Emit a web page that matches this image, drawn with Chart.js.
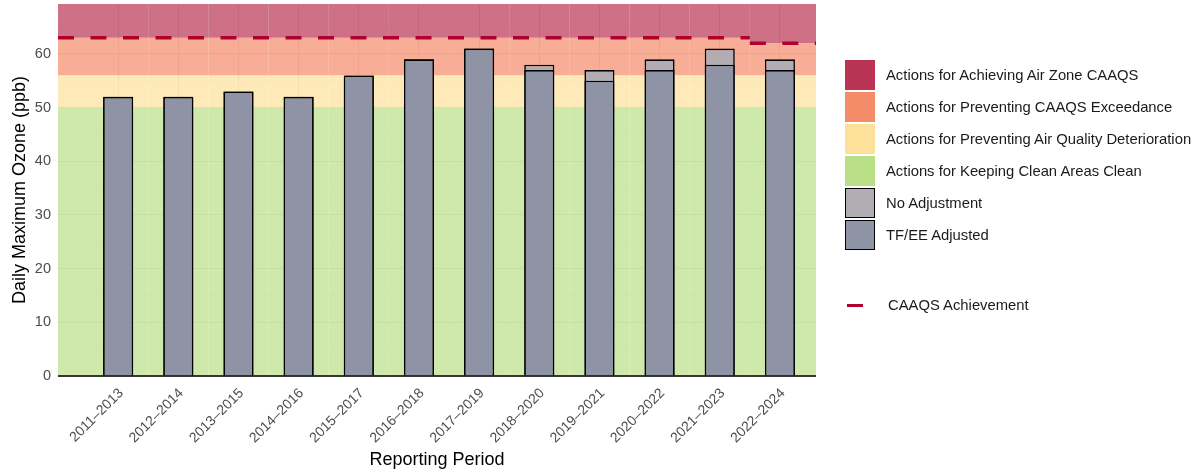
<!DOCTYPE html>
<html>
<head>
<meta charset="utf-8">
<script src="https://cdn.jsdelivr.net/npm/chart.js@4.4.1/dist/chart.umd.min.js"></script>
<style>
  body { margin:0; background:#fff; font-family:"Liberation Sans", Arial, sans-serif; }
  #wrap { position:relative; width:1203px; height:473px; }
  #legend { position:absolute; left:845px; top:60px; }
  .item { position:absolute; left:0; height:30px; width:360px; display:flex; align-items:center; font-size:14.8px; color:#1a1a1a; white-space:nowrap; }
  .item .box { width:30px; height:30px; margin-right:11px; box-sizing:border-box; flex:none; }
  .item .dash { width:16px; height:3px; margin:0 25px 0 2px; background:#b0002e; flex:none; }
</style>
</head>
<body>
<div id="wrap">
  <canvas id="chart" width="1203" height="473"></canvas>
  <div id="legend"></div>
</div>
<script>
// données
const categories = ["2011–2013","2012–2014","2013–2015","2014–2016","2015–2017","2016–2018",
                    "2017–2019","2018–2020","2019–2021","2020–2022","2021–2023","2022–2024"];
const noAdjustment = [52, 52, 53, 52, 56, 59, 61, 58, 57, 59, 61, 59];
const tfeeAdjusted = [52, 52, 53, 52, 56, 59, 61, 57, 55, 57, 58, 57];
const caaqsAchievement = [63, 63, 63, 63, 63, 63, 63, 63, 63, 63, 63, 62];
const yTicks = [0, 10, 20, 30, 40, 50, 60];

// bandes de gestion (seuil bas)
const bandNames = ["Actions for Achieving Air Zone CAAQS", "Actions for Preventing CAAQS Exceedance",
                   "Actions for Preventing Air Quality Deterioration", "Actions for Keeping Clean Areas Clean"];
const bandColors = ["#b93452", "#f58c69", "#fde19b", "#b9e087"];
const bandFloors = [caaqsAchievement, 56, 50, 0];

const X_MIN = -1, X_MAX = 11.6, Y_MAX = 69.3;

// ligne CAAQS en escalier, coupée à chaque changement
const caaqsLine = [];
caaqsAchievement.forEach((v, i) => {
    const start = i === 0 ? X_MIN : i - 0.5;
    const end = i === caaqsAchievement.length - 1 ? X_MAX : i + 0.5;
    caaqsLine.push({x: start, y: v}, {x: end, y: v});
    if (i < caaqsAchievement.length - 1 && caaqsAchievement[i + 1] !== v) caaqsLine.push({x: end, y: null});
});

const bandsPlugin = {
    id: "bands",
    beforeDatasetsDraw(chart) {
        const {ctx, chartArea: a, scales: {x, y}} = chart;
        ctx.save();
        ctx.globalAlpha = 0.7;
        bandFloors.forEach((floor, b) => {
            const top = b === 0 ? null : bandFloors[b - 1];
            ctx.fillStyle = bandColors[b];
            categories.forEach((c, i) => {
                const x0 = i === 0 ? a.left : x.getPixelForValue(i - 0.5);
                const x1 = i === categories.length - 1 ? a.right : x.getPixelForValue(i + 0.5);
                const lo = Array.isArray(floor) ? floor[i] : floor;
                const hi = top === null ? Y_MAX : (Array.isArray(top) ? top[i] : top);
                const y0 = y.getPixelForValue(hi), y1 = y.getPixelForValue(lo);
                ctx.fillRect(x0, y0, x1 - x0, y1 - y0);
            });
        });
        ctx.restore();
    },
    afterDatasetsDraw(chart) {
        const {ctx, chartArea: a} = chart;
        ctx.save();
        ctx.strokeStyle = "#000";
        ctx.lineWidth = 1.6;
        ctx.beginPath();
        ctx.moveTo(a.left, a.bottom);
        ctx.lineTo(a.right, a.bottom);
        ctx.stroke();
        ctx.restore();
    }
};

const ctx = document.getElementById("chart").getContext("2d");
new Chart(ctx, {
    type: "bar",
    data: {
        datasets: [
            {type:"line", label:"CAAQS Achievement", data: caaqsLine, borderColor:"#b0002e", borderWidth:3.6,
             borderDash:[16,16.5], pointRadius:0, spanGaps:false, order:0, borderCapStyle:"butt"},
            {label:"TF/EE Adjusted", data: tfeeAdjusted.map((v,i)=>({x:i, y:v})), backgroundColor:"#8e93a6",
             borderColor:"#000", borderWidth:1.6, grouped:false, barPercentage:0.5, categoryPercentage:1, order:1},
            {label:"No Adjustment", data: noAdjustment.map((v,i)=>({x:i, y:v})), backgroundColor:"#b2acb3",
             borderColor:"#000", borderWidth:1.6, grouped:false, barPercentage:0.5, categoryPercentage:1, order:2}
        ]
    },
    options: {
        responsive:false,
        animation:false,
        devicePixelRatio:1,
        layout:{padding:{top:4, right:387, left:0, bottom:0}},
        plugins:{legend:{display:false}, tooltip:{enabled:false}},
        scales:{
            x:{
                type:"linear", min:X_MIN, max:X_MAX, offset:false,
                afterBuildTicks: s => { s.ticks = categories.map((c,i)=>({value:i})); },
                afterFit: s => { s.height = 97; s.paddingLeft = 0; s.paddingRight = 0; },
                ticks:{ autoSkip:false, minRotation:45, maxRotation:45, color:"#4d4d4d", padding:9, labelOffset:3,
                        font:{family:"Liberation Sans", size:14},
                        callback: v => categories[v] },
                grid:{ color:"#dedede", lineWidth:1, drawTicks:false, offset:false },
                border:{display:false},
                title:{ display:true, text:"Reporting Period", color:"#000",
                        font:{family:"Liberation Sans", size:18}, padding:{top:0, bottom:2} }
            },
            y:{
                min:0, max:Y_MAX,
                afterBuildTicks: s => {
                    const t = [];
                    yTicks.forEach(v => { t.push({value:v}); if (v + 5 < Y_MAX) t.push({value:v + 5}); });
                    s.ticks = t;
                },
                afterFit: s => { s.width = 58; s.paddingTop = 0; s.paddingBottom = 0; },
                ticks:{ color:"#4d4d4d", padding:7, font:{family:"Liberation Sans", size:14.5},
                        callback: v => yTicks.includes(v) ? v : "" },
                grid:{ color: c => (c.tick && c.tick.value % 10 === 0) ? "#dedede" : "#ececec",
                       lineWidth: c => (c.tick && c.tick.value % 10 === 0) ? 1 : 0.6, drawTicks:false },
                border:{display:false},
                title:{ display:true, text:"Daily Maximum Ozone (ppb)", color:"#000",
                        font:{family:"Liberation Sans", size:18}, padding:{top:9, bottom:4} }
            }
        }
    },
    plugins:[bandsPlugin]
});

// légende HTML
const legend = document.getElementById("legend");
const items = bandNames.map((n,i)=>({name:n, color:bandColors[i], border:false}))
    .concat([{name:"No Adjustment", color:"#b2acb3", border:true}, {name:"TF/EE Adjusted", color:"#8e93a6", border:true}]);
items.forEach((it, i) => {
    const d = document.createElement("div");
    d.className = "item";
    d.style.top = (i * 32) + "px";
    d.innerHTML = `<span class="box" style="background:${it.color};${it.border ? "border:1.6px solid #000;" : ""}"></span>${it.name}`;
    legend.appendChild(d);
});
const dl = document.createElement("div");
dl.className = "item";
dl.style.top = "230px";
dl.innerHTML = `<span class="dash"></span>CAAQS Achievement`;
legend.appendChild(dl);
</script>
</body>
</html>
